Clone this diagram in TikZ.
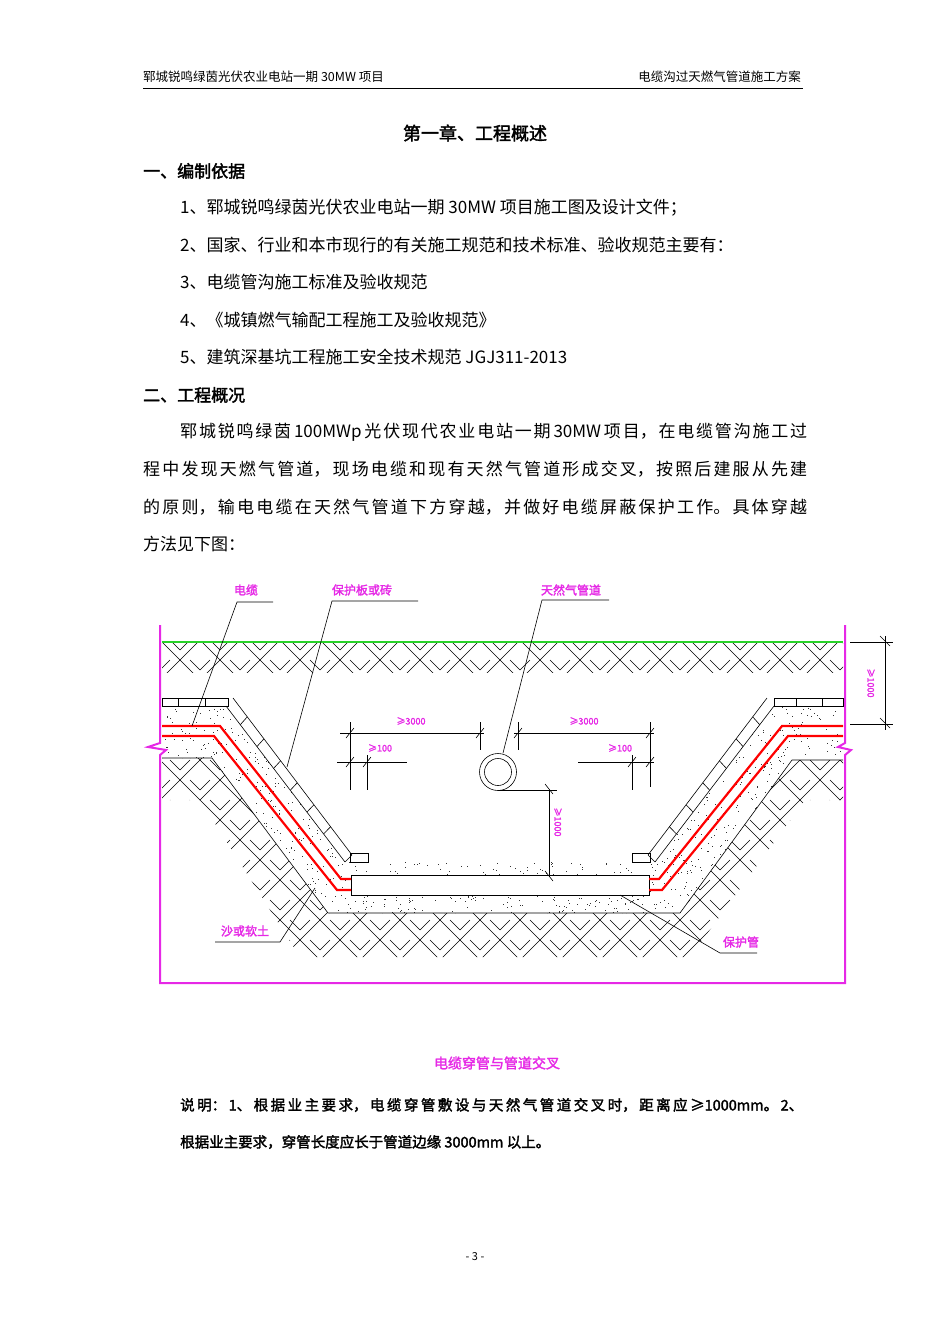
\documentclass[tikz,border=0pt]{standalone}
\usepackage{fontspec}
\setmainfont{Noto Sans CJK SC}[AutoFakeBold=2]
\usetikzlibrary{calc}
\XeTeXlinebreaklocale "zh"
\XeTeXlinebreakskip=0pt plus 2pt
\definecolor{mag}{RGB}{230,40,230}
\definecolor{grn}{RGB}{40,210,40}
\newcommand{\jline}[2]{\parbox[c]{#1}{\parfillskip=0pt\parindent=0pt\relax #2\par}}
\tikzset{
  body/.style={anchor=west,inner sep=0pt,font=\fontsize{17}{20}\selectfont},
  bodyb/.style={body,font=\fontsize{17}{20}\selectfont\bfseries},
  lbl/.style={inner sep=0pt,text=mag,font=\fontsize{12}{14}\selectfont\bfseries},
  dim/.style={inner sep=0pt,text=mag,font=\fontsize{9}{10}\selectfont\bfseries},
  thin/.style={line width=0.6pt},
  tick/.style={line width=0.6pt},
  cable/.style={red,line width=2.2pt}
}
\newcommand{\hatchbox}[4]{%
 \foreach \i in {#1,...,#2}{\foreach \j in {#3,...,#4}{%
  \pgfmathtruncatemacro\p{mod(\i+\j,2)}%
  \ifnum\p=0
   \draw[thin] (\i*20,\j*20)--++(20,20) (\i*20+10,\j*20)--++(10,10);
  \else
   \draw[thin] (\i*20,\j*20+20)--++(20,-20) (\i*20,\j*20+10)--++(10,-10);
  \fi}}}
\begin{document}
\begin{tikzpicture}[x=1pt,y=-1pt]
\useasboundingbox (0,0) rectangle (950,1344);
\fill[white] (0,0) rectangle (950,1344);
% header
\node[anchor=west,inner sep=0pt,font=\fontsize{12.5}{14}\selectfont] (h1) at (143,77) {郓城锐鸣绿茵光伏农业电站一期 30MW 项目};
\node[anchor=east,inner sep=0pt,font=\fontsize{12.5}{14}\selectfont] (h2) at (801,77) {电缆沟过天燃气管道施工方案};
\draw[line width=0.8pt] (143,88)--(803,88);
\node[inner sep=0pt,font=\fontsize{18}{20}\selectfont\bfseries] (title) at (475,133) {第一章、工程概述};
\node[bodyb] (s1) at (143,171) {一、编制依据};
\node[body] (i1) at (180,208) {1、郓城锐鸣绿茵光伏农业电站一期 30MW 项目施工图及设计文件；};
\node[body] (i2) at (180,245) {2、国家、行业和本市现行的有关施工规范和技术标准、验收规范主要有：};
\node[body] (i3) at (180,282) {3、电缆管沟施工标准及验收规范};
\node[body] (i4) at (180,320) {4、《城镇燃气输配工程施工及验收规范》};
\node[body] (i5) at (180,357) {5、建筑深基坑工程施工安全技术规范 JGJ311-2013};
\node[bodyb] (s2) at (143,395) {二、工程概况};
\node[body] (p1) at (180,432) {\jline{627pt}{郓城锐鸣绿茵\,100MWp\,光伏现代农业电站一期\,30MW\,项目，在电缆管沟施工过}};
\node[body] (p2) at (143,469) {\jline{664pt}{程中发现天燃气管道，现场电缆和现有天然气管道形成交叉，按照后建服从先建}};
\node[body] (p3) at (143,507) {\jline{664pt}{的原则，输电电缆在天然气管道下方穿越，并做好电缆屏蔽保护工作。具体穿越}};
\node[body] (p4) at (143,544) {方法见下图：};
% ===== diagram =====
\begin{scope}
 \clip (162,643) rectangle (843,672);
 \hatchbox{8}{43}{32}{33}
\end{scope}
\begin{scope}
 \clip (162,758)--(212,758)--(328,913)--(680,913)--(792,760)--(843,760)--(843,800)--(805,800)--(690,957)--(300,957)--(200,800)--(162,800)--cycle;
 \hatchbox{8}{43}{37}{48}
\end{scope}
% sand
\begin{scope}
 \clip (162,706)--(226,706)--(345,862)--(655,862)--(773,706)--(843,706)--(843,760)--(792,760)--(680,913)--(328,913)--(212,758)--(162,758)--cycle;
 \pgfmathsetseed{7}
 \foreach \k in {1,...,2600}{
   \pgfmathsetmacro\xx{162+681*rnd}\pgfmathsetmacro\yy{698+216*rnd}
   \fill[black!80] (\xx,\yy) rectangle ++(0.9,0.9);}
\end{scope}
\draw[thin] (162,758)--(212,758)--(328,913)--(680,913)--(792,760)--(843,760);
% protection pipe
\draw[thin,fill=white] (351,875) rectangle (649,895);
\node[inner sep=0pt] (ppipe) at (500,885) {};
% slabs left
\coordinate (LA) at (233,698); \coordinate (LB) at (352,855);
\coordinate (LC) at (226,706); \coordinate (LD) at (345,862);
\draw[thin] (LA)--(LB) (LC)--(LD) (LB)--(LD);
\foreach \t in {0.12,0.26,...,0.95}{\draw[thin] ($(LA)!\t!(LB)$)--($(LC)!\t!(LD)$);}
\draw[thin] (162,698) rectangle (228,706) (178,698)--(178,706) (205,698)--(205,706);
\draw[thin] (350,853) rectangle (368,862);
% slabs right
\coordinate (RA) at (767,698); \coordinate (RB) at (648,855);
\coordinate (RC) at (774,706); \coordinate (RD) at (655,862);
\draw[thin] (RA)--(RB) (RC)--(RD) (RB)--(RD);
\foreach \t in {0.12,0.26,...,0.95}{\draw[thin] ($(RA)!\t!(RB)$)--($(RC)!\t!(RD)$);}
\draw[thin] (774,698) rectangle (843,706) (796,698)--(796,706) (822,698)--(822,706);
\draw[thin] (632,853) rectangle (650,862);
% cables
\draw[cable] (162,726)--(220,726)--(341,879)--(351,879);
\draw[cable] (162,736)--(214,736)--(337,890)--(351,890);
\draw[cable] (843,726)--(782,726)--(659,879)--(649,879);
\draw[cable] (843,736)--(788,736)--(662,890)--(649,890);
\draw[grn,line width=1.2pt] (162,642)--(843,642);
\draw[mag,line width=2pt] (160,625)--(160,743)--(148,747)--(166,750)--(160,755)--(160,983)--(845,983)--(845,755)--(851,750)--(838,747)--(845,743)--(845,625);
% gas pipe
\node[draw,circle,minimum size=37pt,inner sep=0pt,thin] (gas) at (498,772) {};
\draw[thin] (gas.center) circle (13.5);
% dimensions left
\draw[thin] (340,733)--(484,733) (350,722)--(350,790) (480,722)--(480,750);
\draw[tick] (346,738)--(354,728) (476,738)--(484,728);
\node[dim] (d1) at (411,721) {≥3000};
\draw[thin] (337,762)--(407,762) (367,755)--(367,790);
\draw[tick] (346,767)--(354,757) (363,767)--(371,757);
\node[dim] (d2) at (380,748) {≥100};
% dimensions right
\draw[thin] (514,733)--(654,733) (518,722)--(518,750) (650,722)--(650,787);
\draw[tick] (514,738)--(522,728) (646,738)--(654,728);
\node[dim] (d3) at (584,721) {≥3000};
\draw[thin] (578,762)--(654,762) (632,755)--(632,790);
\draw[tick] (628,767)--(636,757) (646,767)--(654,757);
\node[dim] (d4) at (620,748) {≥100};
\draw[thin] (498,790)--(557,790) (549,790)--(549,877);
\draw[tick] (545,784)--(553,794) (545,871)--(553,881);
\node[dim,rotate=-90] (d5) at (558,822) {≥1000};
\draw[thin] (850,642)--(893,642) (850,724)--(893,724) (885,636)--(885,730);
\draw[tick] (880,636)--(890,646) (880,718)--(890,728);
\node[dim,rotate=-90] (d6) at (871,683) {≥1000};
% leaders and labels
\node[lbl] (L1) at (246,590) {电缆};
\draw[thin] (273,602)--(237,602)--(192,726);
\node[lbl] (L2) at (362,590) {保护板或砖};
\draw[thin] (418,601)--(332,601)--(287,767);
\node[lbl] (L3) at (571,590) {天然气管道};
\draw[thin] (609,600)--(542,600)--(503,753);
\node[lbl] (L4) at (245,931) {沙或软土};
\draw[thin] (215,942)--(280,942)--(315,888);
\node[lbl] (L5) at (741,942) {保护管};
\draw[thin] (757,953)--(720,953)--(620,895);
\node[lbl,font=\fontsize{14}{16}\selectfont\bfseries] (cap) at (497,1063) {电缆穿管与管道交叉};
\node[bodyb,font=\fontsize{14.5}{16}\selectfont\bfseries] (n1) at (180,1105) {\jline{623pt}{说明：1、根据业主要求，电缆穿管敷设与天然气管道交叉时，距离应≥1000mm。2、}};
\node[bodyb,font=\fontsize{14.5}{16}\selectfont\bfseries] (n2) at (180,1142) {根据业主要求，穿管长度应长于管道边缘 3000mm 以上。};
\node[inner sep=0pt,font=\fontsize{11}{12}\selectfont] (pg) at (475,1257) {- 3 -};
\end{tikzpicture}
\end{document}
